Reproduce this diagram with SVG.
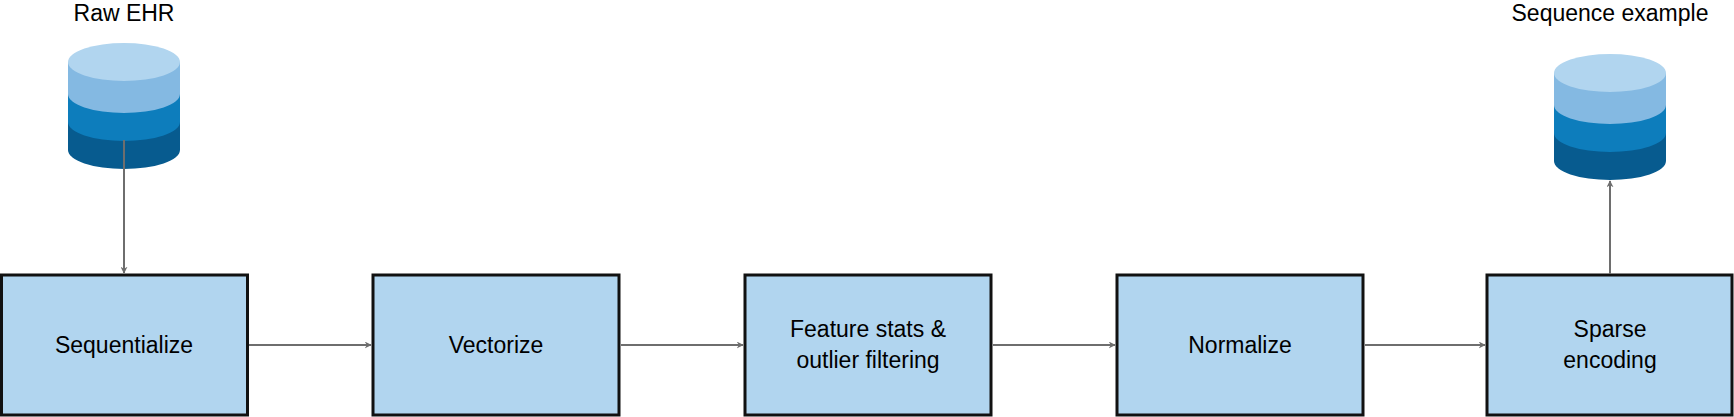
<svg xmlns="http://www.w3.org/2000/svg" width="1734" height="417" viewBox="0 0 1734 417">
<style>
.box{fill:#b1d5ef;stroke:#111;stroke-width:3}
text{font-family:"Liberation Sans",Arial,sans-serif;font-size:23px;fill:#000;text-anchor:middle}
.c{stroke:#6e6e6e;stroke-width:2;fill:none;marker-end:url(#a)}
</style>
<defs>
<marker id="a" viewBox="0 0 10 10" refX="9" refY="5" markerWidth="7" markerHeight="7" markerUnits="userSpaceOnUse" orient="auto"><path d="M0,0 L10,5 L0,10 L3,5 z" fill="#6e6e6e"/></marker>
<marker id="a2" viewBox="0 0 10 10" refX="9" refY="5" markerWidth="12" markerHeight="12" orient="auto"><path d="M0,0 L10,5 L0,10 L3,5 z" fill="#6e6e6e"/></marker>
<g id="cyl">
<path d="M-56,0 V88 A56,19 0 0 0 56,88 V0 z" fill="#075b8f"/>
<path d="M-56,0 V60 A56,19 0 0 0 56,60 V0 z" fill="#0d7dbc"/>
<path d="M-56,0 V32 A56,19 0 0 0 56,32 V0 z" fill="#84b9e2"/>
<ellipse cx="0" cy="0" rx="56" ry="19" fill="#b1d5ef"/>
</g>
</defs>
<g id="raw-ehr"><use href="#cyl" x="124" y="62"/><text x="124" y="21" font-size="22">Raw EHR</text></g>
<g id="sequence-example"><use href="#cyl" x="1610" y="73"/><text x="1610" y="21" font-size="22">Sequence example</text></g>
<g id="sequentialize"><rect class="box" x="1.5" y="275" width="246" height="140"/><text x="124" y="353">Sequentialize</text></g>
<g id="vectorize"><rect class="box" x="373" y="275" width="246" height="140"/><text x="496" y="353">Vectorize</text></g>
<g id="feature-stats"><rect class="box" x="745" y="275" width="246" height="140"/><text x="868" y="337">Feature stats &amp;</text><text x="868" y="368">outlier filtering</text></g>
<g id="normalize"><rect class="box" x="1117" y="275" width="246" height="140"/><text x="1240" y="353">Normalize</text></g>
<g id="sparse-encoding"><rect class="box" x="1487" y="275" width="245" height="140"/><text x="1610" y="337">Sparse</text><text x="1610" y="368">encoding</text></g>
<g id="connectors">
<path class="c" d="M124,140 V273"/>
<path class="c" d="M249,345 H371"/>
<path class="c" d="M621,345 H743"/>
<path class="c" d="M993,345 H1115"/>
<path class="c" d="M1365,345 H1485"/>
<path class="c" d="M1610,274 V181"/>
</g>
</svg>
